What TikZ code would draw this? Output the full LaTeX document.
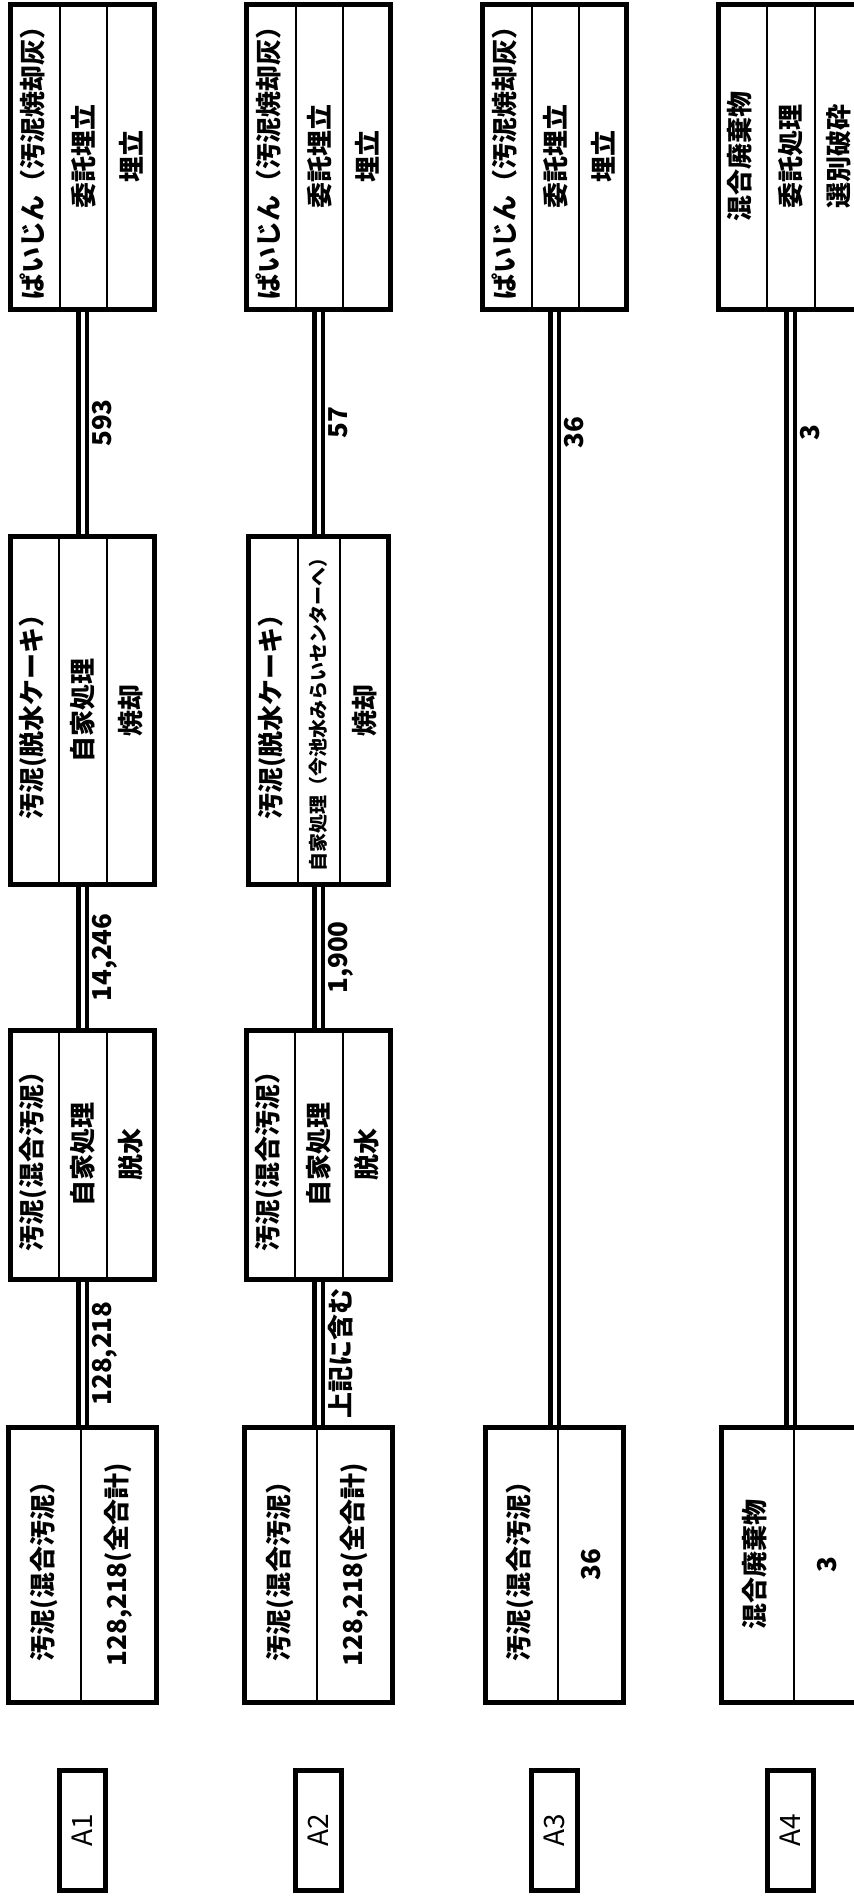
\documentclass[tikz,border=0pt]{standalone}
\usepackage{fontspec}
\setmainfont{Noto Sans CJK JP}
\usetikzlibrary{shapes,positioning}
\tikzstyle{rowtag} = [rectangle, draw, line width=2.5pt, outer sep=0pt,
    minimum width=60pt, minimum height=23pt, inner sep=0pt,
    font=\fontsize{14}{16}\selectfont\mdseries]
\tikzstyle{threebox} = [rectangle split, rectangle split parts=3, draw, line width=1pt,
    outer sep=0pt, text height=10pt, text depth=3pt, inner xsep=0pt, inner ysep=5.25pt]
\tikzstyle{twobox} = [rectangle split, rectangle split parts=2, draw, line width=1pt,
    outer sep=0pt, text height=10pt, text depth=3pt, inner xsep=0pt, inner ysep=11.125pt]
\tikzstyle{boxframe} = [draw, line width=2.5pt]
\tikzstyle{pipe} = [draw, double, line width=2.2pt, double distance=2pt]
\tikzstyle{qty} = [midway, below=4pt, inner sep=0pt]

\begin{document}
\begin{tikzpicture}[x=0.5pt, y=0.5pt, font=\fontsize{13}{15}\selectfont\bfseries]
  \fill [white] (0,0) rectangle (853,1898);
  \useasboundingbox (0,0) rectangle (853,1898);
  \begin{scope}[rotate=90, transform shape]
    % Place nodes
    \node [rowtag] (tag1) at (67.5,-82.5) {A1};
    \node [rowtag, below=95pt of tag1] (tag2) {A2};
    \node [rowtag, below=95pt of tag2] (tag3) {A3};
    \node [rowtag, below=95pt of tag3] (tag4) {A4};
    % A1
    \node [twobox, minimum width=137.5pt, right=34pt of tag1] (src1)
        {汚泥(混合汚泥）\nodepart{two}128,218(全合計)};
    \node [threebox, minimum width=124.5pt, right=74pt of src1] (dew1)
        {汚泥(混合汚泥）\nodepart{two}自家処理\nodepart{three}脱水};
    \node [threebox, minimum width=174pt, right=73pt of dew1] (cake1)
        {汚泥(脱水ケーキ）\nodepart{two}自家処理\nodepart{three}焼却};
    \node [threebox, minimum width=152.5pt, right=113.5pt of cake1] (ash1)
        {ぱいじん（汚泥焼却灰）\nodepart{two}委託埋立\nodepart{three}埋立};
    % A2
    \node [twobox, minimum width=137.5pt, right=34pt of tag2] (src2)
        {汚泥(混合汚泥）\nodepart{two}128,218(全合計)};
    \node [threebox, minimum width=124.5pt, right=74pt of src2] (dew2)
        {汚泥(混合汚泥）\nodepart{two}自家処理\nodepart{three}脱水};
    \node [threebox, minimum width=174pt, right=73pt of dew2] (cake2)
        {汚泥(脱水ケーキ）\nodepart{two}\raisebox{1.5pt}{\fontsize{9.5}{10}\selectfont 自家処理（今池水みらいセンターへ）}\nodepart{three}焼却};
    \node [threebox, minimum width=152.5pt, right=113.5pt of cake2] (ash2)
        {ぱいじん（汚泥焼却灰）\nodepart{two}委託埋立\nodepart{three}埋立};
    % A3
    \node [twobox, minimum width=137.5pt, right=34pt of tag3] (src3)
        {汚泥(混合汚泥）\nodepart{two}36};
    \node [threebox, minimum width=152.5pt, right=559pt of src3] (ash3)
        {ぱいじん（汚泥焼却灰）\nodepart{two}委託埋立\nodepart{three}埋立};
    % A4
    \node [twobox, minimum width=137.5pt, right=34pt of tag4] (src4)
        {混合廃棄物\nodepart{two}3};
    \node [threebox, minimum width=152.5pt, right=559pt of src4] (ash4)
        {混合廃棄物\nodepart{two}委託処理\nodepart{three}選別破砕};
    % Draw edges
    \path [pipe] (src1) -- node [qty] {128,218} (dew1);
    \path [pipe] (dew1) -- node [qty] {14,246} (cake1);
    \path [pipe] (cake1) -- node [qty] {593} (ash1);
    \path [pipe] (src2) -- node [qty] {上記に含む} (dew2);
    \path [pipe] (dew2) -- node [qty] {1,900} (cake2);
    \path [pipe] (cake2) -- node [qty] {57} (ash2);
    \path [pipe] (src3) -- node [qty, pos=0.89] {36} (ash3);
    \path [pipe] (src4) -- node [qty, pos=0.89] {3} (ash4);
    % Heavy outlines
    \foreach \n in {src1,dew1,cake1,ash1,src2,dew2,cake2,ash2,src3,ash3,src4,ash4}
      \draw [boxframe] (\n.south west) rectangle (\n.north east);
  \end{scope}
\end{tikzpicture}
\end{document}
